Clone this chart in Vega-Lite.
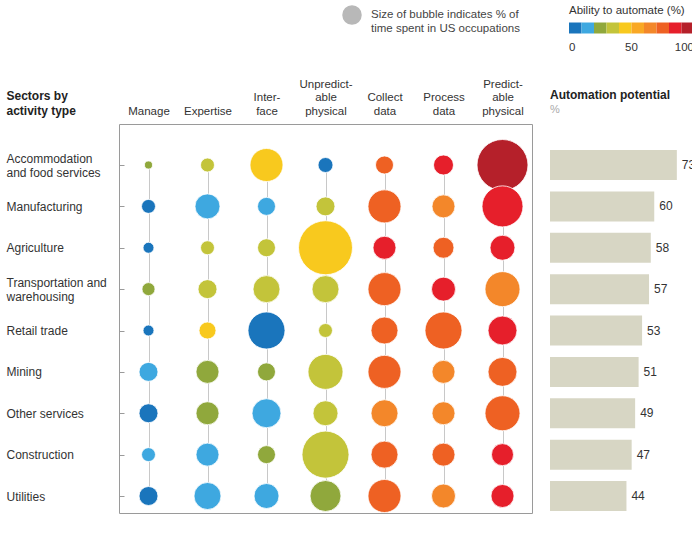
{
  "$schema": "https://vega.github.io/schema/vega-lite/v6.json",
  "padding": {"left": 5, "top": 5, "right": 0, "bottom": 0},
  "autosize": {"type": "pad"},
  "bounds": "flush",
  "spacing": 18,
  "config": {
    "font": "Liberation Sans",
    "view": {"stroke": null},
    "legend": {"symbolBaseFillColor": "#b8b8b8", "symbolBaseStrokeColor": "#b8b8b8"}
  },
  "datasets": {
    "bubbles": [
      {"sector": "Accommodation and food services", "activity": "Manage", "time": 1.3, "automate": 25},
      {"sector": "Accommodation and food services", "activity": "Expertise", "time": 3.9, "automate": 35},
      {"sector": "Accommodation and food services", "activity": "Interface", "time": 21.8, "automate": 45},
      {"sector": "Accommodation and food services", "activity": "Unpredictable physical", "time": 4.5, "automate": 8},
      {"sector": "Accommodation and food services", "activity": "Collect data", "time": 6.5, "automate": 75},
      {"sector": "Accommodation and food services", "activity": "Process data", "time": 8.0, "automate": 85},
      {"sector": "Accommodation and food services", "activity": "Predictable physical", "time": 52.0, "automate": 95},
      {"sector": "Manufacturing", "activity": "Manage", "time": 3.9, "automate": 8},
      {"sector": "Manufacturing", "activity": "Expertise", "time": 12.5, "automate": 15},
      {"sector": "Manufacturing", "activity": "Interface", "time": 6.5, "automate": 15},
      {"sector": "Manufacturing", "activity": "Unpredictable physical", "time": 7.2, "automate": 35},
      {"sector": "Manufacturing", "activity": "Collect data", "time": 21.8, "automate": 75},
      {"sector": "Manufacturing", "activity": "Process data", "time": 10.6, "automate": 65},
      {"sector": "Manufacturing", "activity": "Predictable physical", "time": 33.6, "automate": 85},
      {"sector": "Agriculture", "activity": "Manage", "time": 2.4, "automate": 8},
      {"sector": "Agriculture", "activity": "Expertise", "time": 3.9, "automate": 35},
      {"sector": "Agriculture", "activity": "Interface", "time": 6.5, "automate": 35},
      {"sector": "Agriculture", "activity": "Unpredictable physical", "time": 58.3, "automate": 45},
      {"sector": "Agriculture", "activity": "Collect data", "time": 10.6, "automate": 85},
      {"sector": "Agriculture", "activity": "Process data", "time": 8.8, "automate": 75},
      {"sector": "Agriculture", "activity": "Predictable physical", "time": 12.5, "automate": 85},
      {"sector": "Transportation and warehousing", "activity": "Manage", "time": 3.4, "automate": 25},
      {"sector": "Transportation and warehousing", "activity": "Expertise", "time": 7.2, "automate": 35},
      {"sector": "Transportation and warehousing", "activity": "Interface", "time": 14.6, "automate": 35},
      {"sector": "Transportation and warehousing", "activity": "Unpredictable physical", "time": 14.6, "automate": 35},
      {"sector": "Transportation and warehousing", "activity": "Collect data", "time": 21.8, "automate": 75},
      {"sector": "Transportation and warehousing", "activity": "Process data", "time": 11.5, "automate": 85},
      {"sector": "Transportation and warehousing", "activity": "Predictable physical", "time": 24.5, "automate": 65},
      {"sector": "Retail trade", "activity": "Manage", "time": 2.4, "automate": 8},
      {"sector": "Retail trade", "activity": "Expertise", "time": 5.8, "automate": 45},
      {"sector": "Retail trade", "activity": "Interface", "time": 27.4, "automate": 8},
      {"sector": "Retail trade", "activity": "Unpredictable physical", "time": 3.9, "automate": 35},
      {"sector": "Retail trade", "activity": "Collect data", "time": 14.6, "automate": 75},
      {"sector": "Retail trade", "activity": "Process data", "time": 27.4, "automate": 75},
      {"sector": "Retail trade", "activity": "Predictable physical", "time": 16.8, "automate": 85},
      {"sector": "Mining", "activity": "Manage", "time": 7.2, "automate": 15},
      {"sector": "Mining", "activity": "Expertise", "time": 10.6, "automate": 25},
      {"sector": "Mining", "activity": "Interface", "time": 6.5, "automate": 25},
      {"sector": "Mining", "activity": "Unpredictable physical", "time": 24.5, "automate": 35},
      {"sector": "Mining", "activity": "Collect data", "time": 21.8, "automate": 75},
      {"sector": "Mining", "activity": "Process data", "time": 10.6, "automate": 65},
      {"sector": "Mining", "activity": "Predictable physical", "time": 16.8, "automate": 75},
      {"sector": "Other services", "activity": "Manage", "time": 7.2, "automate": 8},
      {"sector": "Other services", "activity": "Expertise", "time": 10.6, "automate": 25},
      {"sector": "Other services", "activity": "Interface", "time": 16.8, "automate": 15},
      {"sector": "Other services", "activity": "Unpredictable physical", "time": 12.5, "automate": 35},
      {"sector": "Other services", "activity": "Collect data", "time": 14.6, "automate": 65},
      {"sector": "Other services", "activity": "Process data", "time": 10.6, "automate": 65},
      {"sector": "Other services", "activity": "Predictable physical", "time": 24.5, "automate": 75},
      {"sector": "Construction", "activity": "Manage", "time": 3.9, "automate": 15},
      {"sector": "Construction", "activity": "Expertise", "time": 10.6, "automate": 15},
      {"sector": "Construction", "activity": "Interface", "time": 6.5, "automate": 25},
      {"sector": "Construction", "activity": "Unpredictable physical", "time": 44.2, "automate": 35},
      {"sector": "Construction", "activity": "Collect data", "time": 14.6, "automate": 75},
      {"sector": "Construction", "activity": "Process data", "time": 10.6, "automate": 75},
      {"sector": "Construction", "activity": "Predictable physical", "time": 9.7, "automate": 85},
      {"sector": "Utilities", "activity": "Manage", "time": 7.2, "automate": 8},
      {"sector": "Utilities", "activity": "Expertise", "time": 14.6, "automate": 15},
      {"sector": "Utilities", "activity": "Interface", "time": 12.5, "automate": 15},
      {"sector": "Utilities", "activity": "Unpredictable physical", "time": 19.2, "automate": 25},
      {"sector": "Utilities", "activity": "Collect data", "time": 21.8, "automate": 75},
      {"sector": "Utilities", "activity": "Process data", "time": 11.5, "automate": 65},
      {"sector": "Utilities", "activity": "Predictable physical", "time": 10.6, "automate": 85}
    ],
    "sectors": [
      {"sector": "Accommodation and food services", "potential": 73},
      {"sector": "Manufacturing", "potential": 60},
      {"sector": "Agriculture", "potential": 58},
      {"sector": "Transportation and warehousing", "potential": 57},
      {"sector": "Retail trade", "potential": 53},
      {"sector": "Mining", "potential": 51},
      {"sector": "Other services", "potential": 49},
      {"sector": "Construction", "potential": 47},
      {"sector": "Utilities", "potential": 44}
    ]
  },
  "hconcat": [
    {
      "width": 413,
      "height": 389,
      "view": {"stroke": "#9a9a9a", "strokeWidth": 1},
      "data": {"name": "bubbles"},
      "mark": {"type": "circle", "opacity": 1, "stroke": "#ffffff", "strokeWidth": 0.8},
      "encoding": {
        "x": {
          "field": "activity", "type": "nominal", "sort": null,
          "scale": {"type": "point", "padding": 0.5},
          "axis": {
            "orient": "top", "title": null, "labelAngle": 0, "domain": false, "ticks": false,
            "grid": true, "gridColor": "#c8c8c8", "gridWidth": 1,
            "labelPadding": 35, "labelFontSize": 11.5, "labelColor": "#333333", "labelLineHeight": 13.5,
            "labelBaseline": "bottom",
            "labelExpr": "datum.label == 'Manage' ? ['\u200b', '\u200b', 'Manage'] : datum.label == 'Expertise' ? ['\u200b', '\u200b', 'Expertise'] : datum.label == 'Interface' ? ['\u200b', 'Inter-', 'face'] : datum.label == 'Unpredictable physical' ? ['Unpredict-', 'able', 'physical'] : datum.label == 'Collect data' ? ['\u200b', 'Collect', 'data'] : datum.label == 'Process data' ? ['\u200b', 'Process', 'data'] : ['Predict-', 'able', 'physical']"
          }
        },
        "y": {
          "field": "sector", "type": "nominal", "sort": null,
          "scale": {"type": "point", "range": [41, 372], "padding": 0},
          "axis": {
            "orient": "left", "domain": false, "grid": false,
            "ticks": true, "tickSize": -5, "tickColor": "#9a9a9a",
            "labelAlign": "left", "labelPadding": 118, "labelFontSize": 12, "labelColor": "#333333",
            "labelLineHeight": 14.5, "labelBaseline": "middle",
            "labelOffset": {"condition": {"test": "datum.value == 'Accommodation and food services' || datum.value == 'Transportation and warehousing'", "value": -7}, "value": 0},
            "labelExpr": "datum.label == 'Accommodation and food services' ? ['Accommodation', 'and food services'] : datum.label == 'Transportation and warehousing' ? ['Transportation and', 'warehousing'] : datum.label",
            "title": ["Sectors by", "activity type"],
            "titleAngle": 0, "titleAlign": "left", "titleBaseline": "bottom",
            "titleX": -113, "titleY": -22, "titleFontSize": 12, "titleFontWeight": "bold",
            "titleColor": "#222222", "titleLineHeight": 15
          }
        },
        "size": {
          "field": "time", "type": "quantitative",
          "scale": {"domain": [0, 120], "range": [0, 6000]},
          "legend": {
            "orient": "none", "legendX": 223, "legendY": -119, "title": null,
            "values": [6.48],
            "labelExpr": "['Size of bubble indicates % of', 'time spent in US occupations']",
            "labelFontSize": 11.5, "labelColor": "#444444", "labelOffset": 9, "labelLineHeight": 14,
            "labelLimit": 300, "padding": 0,
            "symbolFillColor": "#b8b8b8", "symbolStrokeColor": "#b8b8b8"
          }
        },
        "color": {
          "field": "automate", "type": "quantitative",
          "scale": {
            "type": "quantize", "domain": [0, 100],
            "range": ["#1a75bc", "#3ea8e0", "#90a83c", "#c3c43a", "#f8c91e", "#f9a825", "#f3872a", "#ee6123", "#e61f2b", "#b5202a"]
          },
          "legend": {
            "type": "gradient",
            "direction": "horizontal", "orient": "none", "legendX": 450, "legendY": -119,
            "gradientLength": 125, "gradientThickness": 11,
            "values": [0, 0, 10, 20, 30, 40, 50, 60, 70, 80, 90, 100],
            "title": "Ability to automate (%)", "titleFontSize": 11.5, "titleFontWeight": "normal",
            "titleColor": "#333333", "titlePadding": 6, "titleLimit": 300,
            "labelFontSize": 11.5, "labelColor": "#333333", "labelOffset": 8,
            "labelExpr": "datum.value == 0 || datum.value == 50 || datum.value == 100 ? datum.label : ''",
            "padding": 0
          }
        }
      }
    },
    {
      "width": 139,
      "height": 389,
      "data": {"name": "sectors"},
      "title": {
        "text": "Automation potential", "subtitle": "%", "anchor": "start", "frame": "group",
        "fontSize": 12, "fontWeight": "bold", "color": "#222222",
        "subtitleColor": "#aaaaaa", "subtitleFontSize": 11, "subtitlePadding": 2, "offset": 8
      },
      "encoding": {
        "y": {
          "field": "sector", "type": "nominal", "sort": null,
          "scale": {"type": "point", "range": [41, 372], "padding": 0},
          "axis": null
        },
        "x": {
          "field": "potential", "type": "quantitative",
          "scale": {"domain": [0, 80], "nice": false},
          "axis": null
        }
      },
      "layer": [
        {"mark": {"type": "bar", "size": 30, "color": "#d7d6c4"}},
        {"mark": {"type": "text", "align": "left", "baseline": "middle", "dx": 5, "fontSize": 12, "color": "#333333"},
         "encoding": {"text": {"field": "potential", "type": "quantitative"}}}
      ]
    }
  ]
}
